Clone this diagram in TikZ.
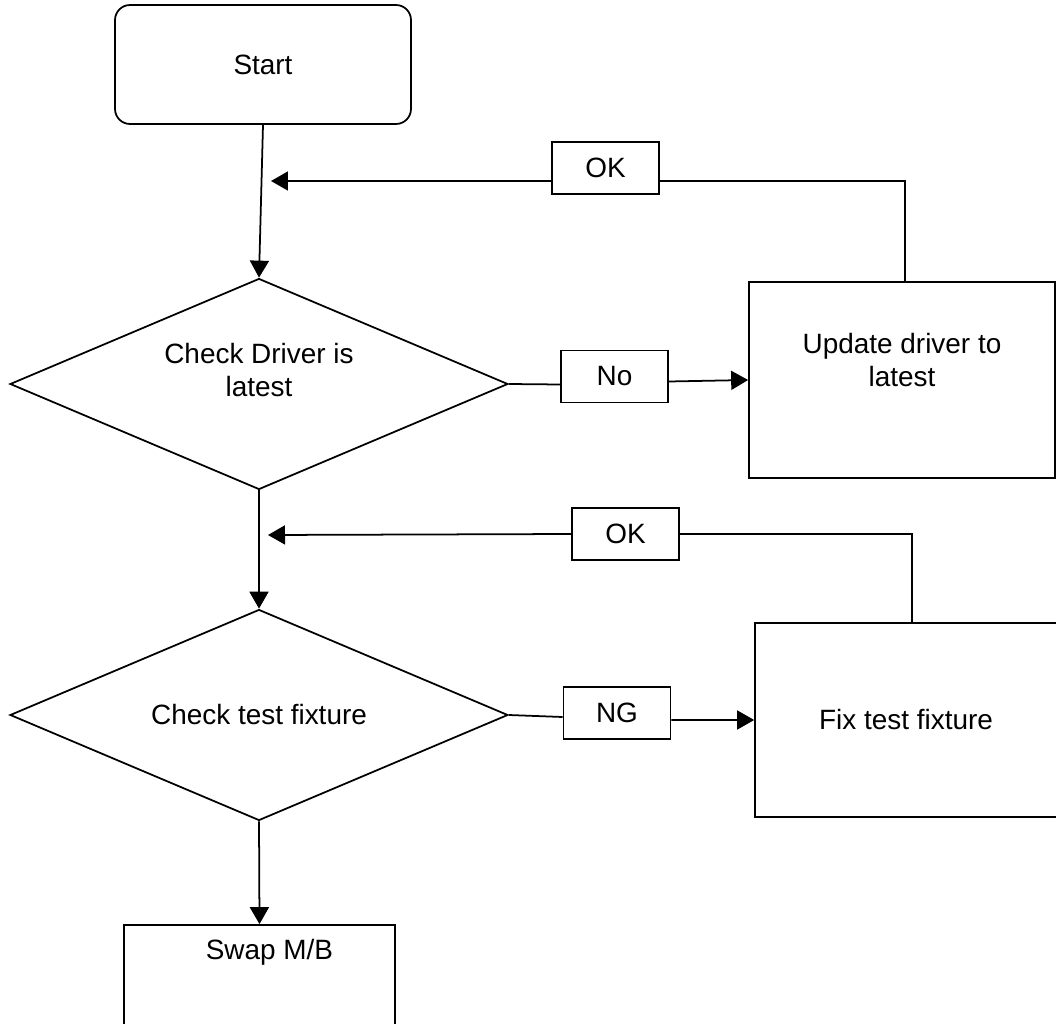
\documentclass[tikz,border=0pt]{standalone}
\usepackage{fontspec}
\setmainfont{Liberation Sans}
\usepackage{tikz}
\usetikzlibrary{positioning}
\usetikzlibrary{shapes.geometric}
\usetikzlibrary{arrows.meta}

\begin{document}
\begin{tikzpicture}[x=0.02cm, y=-0.02cm,
    every node/.style={font=\fontsize{15.9}{19.3}\selectfont},
    box/.style={rectangle, draw, line width=1pt, inner sep=0pt},
    decision/.style={diamond, aspect=2.36, draw, line width=1pt, inner sep=0pt, minimum width=9.96cm, minimum height=4.22cm},
    tag/.style={box, minimum width=2.14cm, minimum height=1.04cm},
    link/.style={line width=1pt},
    flow/.style={link, -{Triangle[length=0.34cm, width=0.38cm]}}]
\useasboundingbox (0,0) rectangle (1056,1024);

\node[box, rounded corners=0.3cm, minimum width=5.92cm, minimum height=2.38cm] (start) at (263,64.5) {Start};
\node[decision, label={[align=center, yshift=0.28cm]center:{Check Driver is\\latest}}] (chk1) at (259,384) {};
\node[box, minimum width=6.12cm, minimum height=3.92cm, label={[align=center, yshift=0.4cm]center:{Update driver to\\latest}}] (upd) at (902,380) {};
\node[tag] (no1) at (614.5,376.5) {No};
\node[tag] (ok1) at (605.5,168) {OK};
\node[decision] (chk2) at (259,715) {Check test fixture};
\node[tag] (ng) at (617,713) {NG};
\node[tag] (ok2) at (625.5,534) {OK};
\node[box, minimum width=6.04cm, minimum height=3.88cm] (fix) at (906,720) {Fix test fixture};
\node[box, minimum width=5.42cm, minimum height=2.2cm, label={[xshift=0.2cm, yshift=0.56cm]center:Swap M/B}] (swap) at (259.5,980) {};

\coordinate (tip1) at (271,181);
\coordinate (tip2) at (268,535);

% main line
\draw[flow] (start.south) -- (chk1.north);
\draw[flow] (chk1.south) -- (chk2.north);
\draw[flow] (chk2.south) -- (swap.north);

% driver loop
\draw[link] (chk1.east) -- ([yshift=-0.16cm]no1.west);
\draw[flow] ([yshift=-0.1cm]no1.east) -- (upd.west);
\draw[link] ([xshift=0.06cm]upd.north) |- ([yshift=-0.26cm]ok1.east);
\draw[flow] ([yshift=-0.26cm]ok1.west) -- (tip1);

% fixture loop
\draw[link] (chk2.east) -- ([yshift=-0.08cm]ng.west);
\draw[flow] ([yshift=-0.14cm]ng.east) -- (fix.west);
\draw[link] ([xshift=0.12cm]fix.north) |- (ok2.east);
\draw[flow] (ok2.west) -- (tip2);
\end{tikzpicture}
\end{document}
